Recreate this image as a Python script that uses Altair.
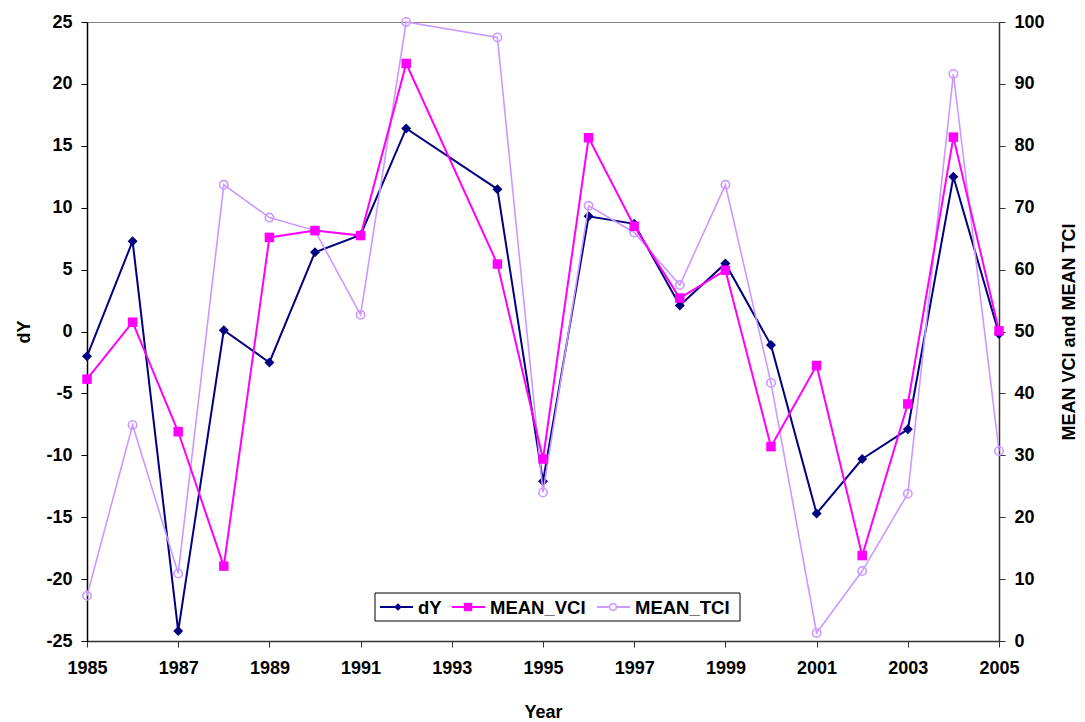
import altair as alt
import pandas as pd

# Annual series (no record for 1993)
years = [1985, 1986, 1987, 1988, 1989, 1990, 1991, 1992, 1994, 1995,
         1996, 1997, 1998, 1999, 2000, 2001, 2002, 2003, 2004, 2005]
dy = [-2.0, 7.3, -24.2, 0.1, -2.5, 6.4, 7.8, 16.4, 11.5, -12.1,
      9.3, 8.7, 2.1, 5.5, -1.1, -14.7, -10.3, -7.9, 12.5, -0.2]
mean_vci = [42.3, 51.5, 33.8, 12.1, 65.2, 66.3, 65.5, 93.3, 60.9, 29.4,
            81.3, 67.0, 55.4, 59.9, 31.4, 44.5, 13.8, 38.3, 81.4, 50.1]
mean_tci = [7.3, 34.9, 10.9, 73.7, 68.4, 66.3, 52.7, 100.0, 97.5, 24.0,
            70.3, 66.0, 57.5, 73.7, 41.7, 1.3, 11.3, 23.8, 91.6, 30.7]

x_ticks = list(range(1985, 2006, 2))
left_ticks = list(range(-25, 26, 5))
right_ticks = list(range(0, 101, 10))
series_names = ["dY", "MEAN_VCI", "MEAN_TCI"]

FONT = "Liberation Sans"
C_DY = "#000080"
C_VCI = "#FF00FF"
C_TCI = "#CC99FF"

W, H = 912, 619

df = pd.DataFrame({"Year": years, "dY": dy, "MEAN_VCI": mean_vci, "MEAN_TCI": mean_tci})

x_enc = alt.X(
    "Year:Q",
    scale=alt.Scale(domain=[1985, 2005], nice=False, zero=False),
    axis=alt.Axis(values=x_ticks, format="d", title="Year", labelFontSize=18,
                  labelFontWeight="bold", labelFont=FONT, labelColor="black",
                  labelPadding=12, tickSize=6, tickColor="#333", domainColor="#333",
                  domainWidth=1.5, grid=False, titleFont=FONT, titleFontSize=18,
                  titleFontWeight="bold", titleColor="black", titleY=76,
                  titleBaseline="alphabetic", labelFlush=False),
)

left_scale = alt.Scale(domain=[-25, 25], nice=False, zero=False)
right_scale = alt.Scale(domain=[0, 100], nice=False, zero=False)

left_axis = alt.Axis(values=left_ticks, title="dY", orient="left", labelFontSize=18,
                     labelFontWeight="bold", labelFont=FONT, labelColor="black",
                     labelExpr="'' + datum.value",
                     labelPadding=9, tickSize=6, tickColor="black", domainColor="black",
                     domainWidth=1.5, grid=False, titleFont=FONT, titleFontSize=18,
                     titleFontWeight="bold", titleColor="black", titleAngle=270,
                     titleX=-54, titleY=H / 2, titleBaseline="bottom",
                     titleAlign="center")

right_axis = alt.Axis(values=right_ticks, title="MEAN VCI and MEAN TCI", orient="right",
                      labelFontSize=18, labelFontWeight="bold", labelFont=FONT,
                      labelColor="black", labelPadding=9, tickSize=6, tickColor="#333",
                      domainColor="#333", domainWidth=1.5, grid=False, titleFont=FONT,
                      titleFontSize=18, titleFontWeight="bold", titleColor="black",
                      titleAngle=270, titleX=79, titleY=H / 2, titleBaseline="bottom",
                      titleAlign="center")

base = alt.Chart(df)

dy_line = base.mark_line(color=C_DY, strokeWidth=2).encode(
    x=x_enc, y=alt.Y("dY:Q", scale=left_scale, axis=left_axis))
dy_pts = base.mark_point(shape="diamond", filled=True, color=C_DY, size=100, opacity=1).encode(
    x="Year:Q", y=alt.Y("dY:Q", scale=left_scale))
left = alt.layer(dy_line, dy_pts)

vci_line = base.mark_line(color=C_VCI, strokeWidth=2).encode(
    x="Year:Q", y=alt.Y("MEAN_VCI:Q", scale=right_scale, axis=right_axis))
vci_pts = base.mark_point(shape="square", filled=True, color=C_VCI, size=90, opacity=1).encode(
    x="Year:Q", y=alt.Y("MEAN_VCI:Q", scale=right_scale))
tci_line = base.mark_line(color=C_TCI, strokeWidth=1.6).encode(
    x="Year:Q", y=alt.Y("MEAN_TCI:Q", scale=right_scale))
tci_pts = base.mark_point(shape="circle", filled=False, color=C_TCI, size=70,
                          strokeWidth=1.6, opacity=1).encode(
    x="Year:Q", y=alt.Y("MEAN_TCI:Q", scale=right_scale))
right = alt.layer(tci_line, tci_pts, vci_line, vci_pts)

# Legend box drawn inside the plot area
one = pd.DataFrame({"k": [0]})
lg = alt.Chart(one)
box = lg.mark_rect(fill="white", stroke="black", strokeWidth=1).encode(
    x=alt.value(288), x2=alt.value(653), y=alt.value(571), y2=alt.value(599))

legend_layers = [box]
entries = [
    (series_names[0], C_DY, "diamond", True, 60, 293, 326, 311, 331),
    (series_names[1], C_VCI, "square", True, 70, 365, 398, 381, 403),
    (series_names[2], C_TCI, "circle", False, 45, 510, 543, 526, 548),
]
ly = 585
for name, col, shp, filled, sz, x0, x1, xm, xt in entries:
    legend_layers.append(lg.mark_rule(color=col, strokeWidth=2).encode(
        x=alt.value(x0), x2=alt.value(x1), y=alt.value(ly)))
    if filled:
        legend_layers.append(lg.mark_point(shape=shp, filled=True, color=col, size=sz,
                                           opacity=1).encode(x=alt.value(xm), y=alt.value(ly)))
    else:
        legend_layers.append(lg.mark_point(shape=shp, filled=False, fill="white", color=col,
                                           size=sz, strokeWidth=1.5, opacity=1).encode(
            x=alt.value(xm), y=alt.value(ly)))
    legend_layers.append(lg.mark_text(text=name, align="left", baseline="middle",
                                      font=FONT, fontSize=18.5, fontWeight="bold",
                                      color="black").encode(
        x=alt.value(xt), y=alt.value(ly + 1)))

legend = alt.layer(*legend_layers)

chart = alt.layer(left, right, legend).resolve_scale(y="independent").properties(
    width=W, height=H,
    autosize=alt.AutoSizeParams(type="none"),
    padding={"left": 87, "top": 22, "right": 86, "bottom": 81},
    background="white",
).configure_view(stroke="#808080", strokeWidth=1)

chart.save("out.html", embed_options={"renderer": "svg", "actions": False})
